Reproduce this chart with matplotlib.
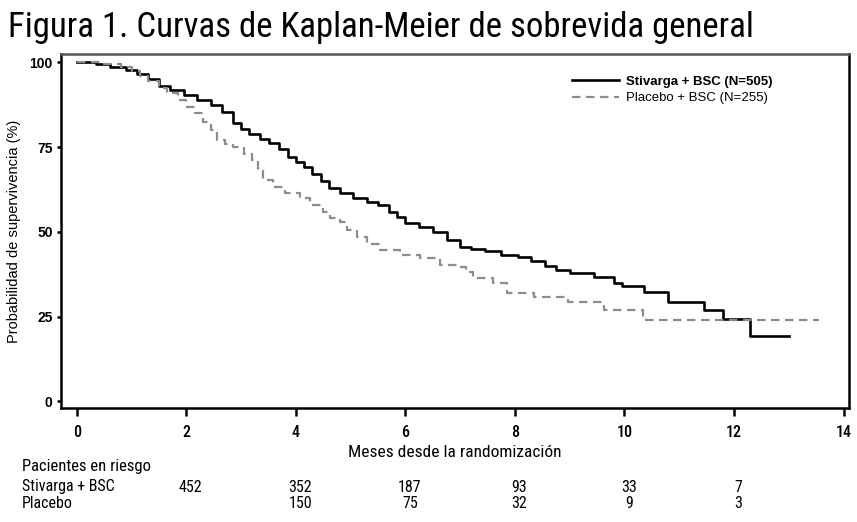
import numpy as np
import matplotlib.pyplot as plt
from matplotlib import font_manager
from matplotlib.lines import Line2D

# fuente estrecha si existe
nombres = {f.name for f in font_manager.fontManager.ttflist}
preferidas = ['Nimbus Sans Narrow', 'Liberation Sans Narrow', 'Arial Narrow',
              'Roboto Condensed', 'Archivo Narrow', 'Asap Condensed']
estrecha = next((n for n in preferidas if n in nombres), 'DejaVu Sans')
arial = ['Liberation Sans', 'DejaVu Sans']
plt.rcParams['font.family'] = [estrecha, 'DejaVu Sans']

# Stivarga + BSC (tiempos en meses, sobrevida %)
t_stiv = [0, 0.35, 0.6, 0.9, 1.1, 1.3, 1.5, 1.7, 1.95, 2.2, 2.45, 2.65, 2.85, 3.0, 3.15,
          3.35, 3.5, 3.7, 3.85, 4.0, 4.15, 4.3, 4.45, 4.6, 4.8, 5.05, 5.3, 5.5, 5.7, 5.85,
          6.0, 6.25, 6.5, 6.75, 7.0, 7.2, 7.45, 7.75, 8.05, 8.3, 8.55, 8.75, 9.0, 9.45,
          9.8, 9.95, 10.35, 10.8, 11.45, 11.8, 12.3, 13.0]
s_stiv = [100, 99.5, 98.8, 97.9, 96.5, 95, 93, 92, 90.5, 89, 87.5, 85.5, 82, 80.5, 79,
          77.5, 76.3, 74.5, 72, 70.5, 69, 67, 65, 63, 61.5, 60, 58.8, 57.8, 56, 54.5,
          52.5, 51.5, 50, 47.5, 45.6, 45, 44.3, 43.3, 42.5, 41.3, 40, 38.8, 37.9, 36.7,
          34.9, 34, 32.2, 29.3, 26.9, 24.3, 19.2, 19.2]

# Placebo + BSC
t_plac = [0, 0.5, 0.8, 1.0, 1.15, 1.3, 1.5, 1.65, 1.85, 2.0, 2.15, 2.3, 2.45, 2.56, 2.7,
          2.85, 3.05, 3.2, 3.3, 3.4, 3.58, 3.8, 4.08, 4.25, 4.5, 4.63, 4.8, 4.94, 5.12,
          5.3, 5.54, 5.9, 6.27, 6.64, 6.95, 7.1, 7.24, 7.6, 7.86, 8.34, 8.96, 9.62, 10.33,
          13.55]
s_plac = [100, 99.5, 98.8, 97.5, 96, 94.4, 92.5, 91.1, 89, 87, 85, 82.5, 80, 77.2, 76,
          75.1, 73, 71.3, 68, 65.4, 63.3, 61.5, 60, 58, 56, 54.1, 53, 50.6, 48.5,
          46.5, 44.7, 43.2, 42.3, 40.2, 39.6, 38, 36.4, 34.9, 32, 30.8, 29.3, 26.9, 24,
          24]

# pacientes en riesgo
meses_riesgo = [2, 4, 6, 8, 10, 12]
riesgo_stiv = ['452', '352', '187', '93', '33', '7']
riesgo_plac = ['', '150', '75', '32', '9', '3']

fig = plt.figure(figsize=(8.57, 5.22), dpi=100)
ax = fig.add_axes([61/857, 1-408/522, (849-61)/857, (408-54)/522])

ax.step(t_stiv, s_stiv, where='post', color='black', lw=1.9)
ax.step(t_plac, s_plac, where='post', color='#8c8c8c', lw=1.6, dashes=(3.8, 2.5))

ax.set_xlim(-0.29, 14.1)
ax.set_ylim(-2, 102.5)
ax.set_xticks(range(0, 15, 2))
ax.set_yticks([0, 25, 50, 75, 100])
for sp in ax.spines.values():
    sp.set_linewidth(1.8)
ax.spines['top'].set_color('#555555')
ax.tick_params(axis='x', direction='out', length=6, width=1.8, pad=6, labelsize=11.5)
ax.tick_params(axis='y', direction='out', length=3, width=1.8, pad=3, labelsize=10)
for lab in ax.get_xticklabels():
    lab.set_fontweight('medium')
for lab in ax.get_yticklabels():
    lab.set_fontfamily(arial)
    lab.set_fontweight('bold')

ax.set_xlabel('Meses desde la randomización', fontsize=12.5, labelpad=4)
ax.set_ylabel('Probabilidad de supervivencia (%)', fontsize=10.5, labelpad=6, family=arial)

h1 = Line2D([], [], color='black', lw=1.9)
h2 = Line2D([], [], color='#8c8c8c', lw=1.6, dashes=(3.8, 2.5))
leg = ax.legend([h1, h2], ['Stivarga + BSC (N=505)', 'Placebo + BSC (N=255)'],
                loc='upper left', bbox_to_anchor=(560/857, 1-64/522),
                bbox_transform=fig.transFigure, frameon=False,
                handlelength=3.6, handletextpad=0.5, labelspacing=0.3,
                prop={'family': arial, 'size': 9.5})
leg.get_texts()[0].set_fontweight('bold')

fig.text(8/857, 1-28/522, 'Figura 1. Curvas de Kaplan-Meier de sobrevida general',
         fontsize=25, va='center', ha='left')

# tabla de riesgo
trans = ax.get_xaxis_transform()
fig.text(22/857, 1-467/522, 'Pacientes en riesgo', fontsize=12, va='center')
fig.text(22/857, 1-487/522, 'Stivarga + BSC', fontsize=11.5, va='center')
fig.text(22/857, 1-503/522, 'Placebo', fontsize=11.5, va='center')
y1 = (487 - 408) / -(408 - 54)
y2 = (503 - 408) / -(408 - 54)
for m, a, b in zip(meses_riesgo, riesgo_stiv, riesgo_plac):
    ax.text(m + 0.08, y1, a, transform=trans, ha='center', va='center', fontsize=11.5,
            clip_on=False)
    ax.text(m + 0.08, y2, b, transform=trans, ha='center', va='center', fontsize=11.5,
            clip_on=False)

fig.savefig('out.png', dpi=100)
